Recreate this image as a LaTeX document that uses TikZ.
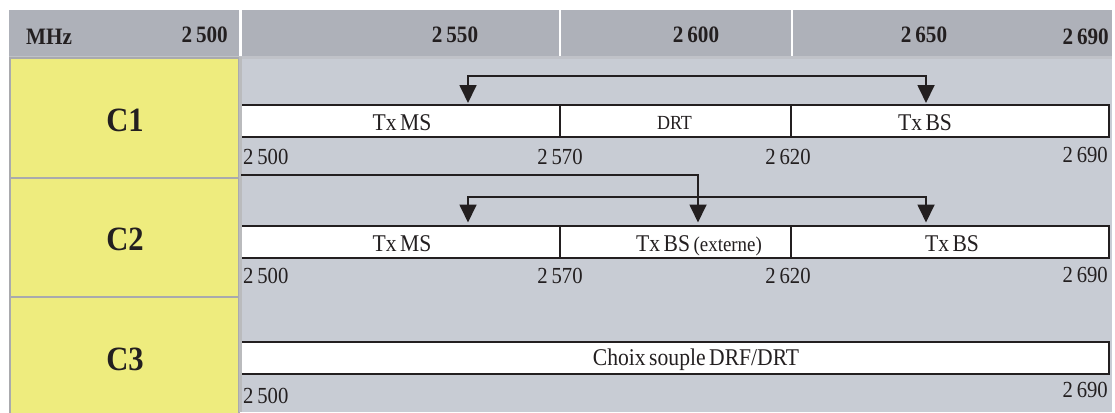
\documentclass[tikz,border=0pt]{standalone}
\usepackage{fontspec}
\setmainfont{Liberation Serif}[FakeStretch=0.9, WordSpace=0.65]
\usetikzlibrary{arrows.meta}
\definecolor{hdr}{HTML}{AEB1B9}
\definecolor{bodyc}{HTML}{C8CCD4}
\definecolor{yel}{HTML}{EEEC7E}
\definecolor{ink}{HTML}{231F20}
\definecolor{rulec}{HTML}{A9AAAD}
\definecolor{stripc}{HTML}{C0C2C8}
\begin{document}
\begin{tikzpicture}[x=1pt,y=-1pt,
  seg/.style={draw=ink, fill=white, line width=2.2pt, inner sep=0pt, anchor=north west},
  lab/.style={inner sep=0pt, font=\fontsize{24}{26}\selectfont, text=ink},
  small/.style={inner sep=0pt, font=\fontsize{20}{22}\selectfont, text=ink},
  num/.style={inner sep=0pt, font=\fontsize{23}{25}\selectfont, text=ink},
  hd/.style={inner sep=0pt, font=\fontsize{23.5}{25}\selectfont\bfseries, text=ink},
  big/.style={inner sep=0pt, font=\fontsize{34}{36}\selectfont\bfseries, text=ink},
  conn/.style={draw=ink, line width=1.8pt},
  >={Triangle[width=17pt,length=18pt]}]
\useasboundingbox (0,0) rectangle (1115,412);
% header
\fill[hdr] (9,10) rectangle (238.5,56.5);
\fill[hdr] (242,10) rectangle (558.5,56.5);
\fill[hdr] (560.5,10) rectangle (790.5,56.5);
\fill[hdr] (792.5,10) rectangle (1112,56.5);
\fill[stripc] (9,56.5) rectangle (1112,59.5);
% body
\fill[bodyc] (242,59.5) rectangle (1112,412);
% yellow column
\draw[rulec, line width=2pt, fill=yel] (10,58.5) rectangle (239,177.5);
\draw[rulec, line width=2pt, fill=yel] (10,177.5) rectangle (239,296.5);
\draw[rulec, line width=2pt, fill=yel] (10,296.5) rectangle (239,416);
% header texts
\node[hd, anchor=base west] (hmhz) at (26,45) {MHz};
\node[hd, anchor=base east] (h2500) at (228,42) {2\,500};
\node[hd, anchor=base] (h2550) at (455,42) {2\,550};
\node[hd, anchor=base] (h2600) at (696,42) {2\,600};
\node[hd, anchor=base] (h2650) at (924,42) {2\,650};
\node[hd, anchor=base east] (h2690) at (1109,45) {2\,690};
% row labels
\node[big, anchor=base] (c1) at (125,131) {C1};
\node[big, anchor=base] (c2) at (125,250) {C2};
\node[big, anchor=base] (c3) at (125,370) {C3};
% C1 boxes
\node[seg, minimum width=319pt, minimum height=32pt] (r1a) at (240,104) {};
\node[seg, minimum width=231pt, minimum height=32pt] (r1b) at (559,104) {};
\node[seg, minimum width=318pt, minimum height=32pt] (r1c) at (790,104) {};
\node[lab, anchor=base] (t1a) at (402,130) {Tx MS};
\node[small, anchor=base] (t1b) at (674.5,129) {DRT};
\node[lab, anchor=base] (t1c) at (925,130) {Tx BS};
\node[num, anchor=base west] (n1a) at (243,164) {2\,500};
\node[num, anchor=base] (n1b) at (560,164) {2\,570};
\node[num, anchor=base] (n1c) at (788,164) {2\,620};
\node[num, anchor=base east] (n1d) at (1108,162) {2\,690};
% C2 boxes
\node[seg, minimum width=319pt, minimum height=32pt] (r2a) at (240,225) {};
\node[seg, minimum width=231pt, minimum height=32pt] (r2b) at (559,225) {};
\node[seg, minimum width=318pt, minimum height=32pt] (r2c) at (790,225) {};
\node[lab, anchor=base] (t2a) at (402,251) {Tx MS};
\node[lab, anchor=base] (t2b) at (699,251) {Tx BS {\fontsize{21}{23}\selectfont(externe)}};
\node[lab, anchor=base] (t2c) at (952,251) {Tx BS};
\node[num, anchor=base west] (n2a) at (243,283) {2\,500};
\node[num, anchor=base] (n2b) at (560,283) {2\,570};
\node[num, anchor=base] (n2c) at (788,283) {2\,620};
\node[num, anchor=base east] (n2d) at (1108,282) {2\,690};
% C3 box
\node[seg, minimum width=868pt, minimum height=32pt] (r3) at (240,341) {};
\node[lab, anchor=base] (t3) at (696,365) {Choix souple DRF/DRT};
\node[num, anchor=base west] (n3a) at (243,403) {2\,500};
\node[num, anchor=base east] (n3d) at (1108,397) {2\,690};
% gray separator between columns
\fill[rulec!80!white] (238.5,57) rectangle (241.8,412);
% connectors C1
\coordinate (a1) at (468,103);
\coordinate (b1) at (926,103);
\coordinate (k1) at (700,76);
\draw[conn,<->] (a1) |- (k1) -| (b1);
% connectors C2
\coordinate (s2) at (241,175);
\coordinate (e2) at (698,222.5);
\draw[conn,->] (s2) -| (e2);
\coordinate (a2) at (468,222.5);
\coordinate (b2) at (926,222.5);
\coordinate (k2) at (700,197);
\draw[conn,<->] (a2) |- (k2) -| (b2);
\end{tikzpicture}
\end{document}
